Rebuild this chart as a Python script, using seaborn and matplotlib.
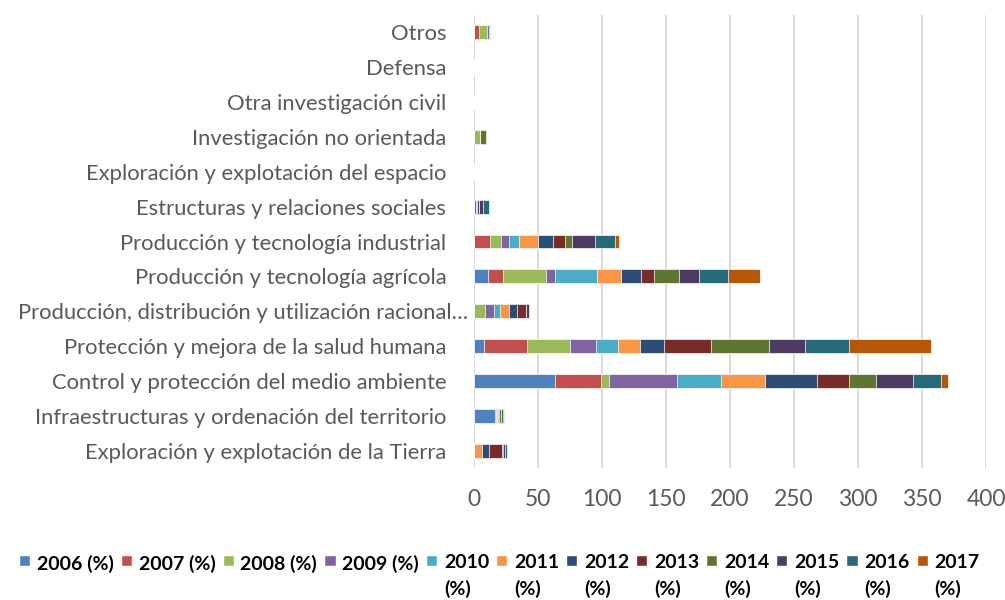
import pandas as pd
import matplotlib

matplotlib.use('Agg')
import matplotlib.pyplot as plt
import seaborn as sns
from matplotlib.patches import Rectangle
from matplotlib.legend_handler import HandlerPatch
from matplotlib.transforms import ScaledTranslation

# categories, top to bottom
categories = [
    "Otros",
    "Defensa",
    "Otra investigación civil",
    "Investigación no orientada",
    "Exploración y explotación del espacio",
    "Estructuras y relaciones sociales",
    "Producción y tecnología industrial",
    "Producción y tecnología agrícola",
    "Producción, distribución y utilización racional…",
    "Protección y mejora de la salud humana",
    "Control y protección del medio ambiente",
    "Infraestructuras y ordenación del territorio",
    "Exploración y explotación de la Tierra",
]

years = ["2006", "2007", "2008", "2009", "2010", "2011",
         "2012", "2013", "2014", "2015", "2016", "2017"]

v2006 = [0, 0, 0, 0, 0, 0, 0, 10.7, 0, 7.6, 63.6, 16.4, 0]
v2007 = [3.6, 0, 0, 0, 0, 1.2, 12.8, 12.2, 0, 33.8, 35.6, 0.8, 0]
v2008 = [6.3, 0, 0, 4.7, 0, 0, 8.0, 33.4, 8.6, 33.3, 6.3, 0, 0]
v2009 = [1.6, 0, 0, 0, 0, 0, 6.8, 7.2, 7.0, 20.9, 53.0, 0.5, 0]
v2010 = [1.2, 0, 0, 0, 0, 0, 7.8, 32.8, 4.5, 16.9, 34.4, 0, 0]
v2011 = [0, 0, 0, 0, 0, 1.3, 14.3, 18.3, 7.0, 17.2, 34.3, 1.3, 6.5]
v2012 = [0, 0, 0, 0, 0, 1.4, 12.3, 16.1, 6.2, 19.0, 41.0, 0.8, 5.4]
v2013 = [0, 0, 0, 0, 0, 0, 9.4, 9.9, 7.0, 36.8, 25.0, 0, 9.9]
v2014 = [0, 0, 0, 4.9, 0, 0, 5.2, 19.8, 0.5, 45.0, 20.8, 1.0, 1.0]
v2015 = [0, 0, 0, 0, 0, 2.9, 18.2, 15.6, 2.2, 28.3, 29.0, 0, 1.7]
v2016 = [0, 0, 0, 0, 0, 5.2, 15.4, 22.2, 0, 34.2, 22.0, 1.5, 1.5]
v2017 = [0, 0, 0, 0, 0, 0, 3.3, 25.5, 0, 64.0, 5.4, 1.5, 0]

colors = ["#4F81BD", "#C0504D", "#9BBB59", "#8064A2", "#4BACC6", "#F79646",
          "#2C4D75", "#772C2A", "#5F7530", "#4D3B62", "#276A7C", "#B65708"]

series = [v2006, v2007, v2008, v2009, v2010, v2011,
          v2012, v2013, v2014, v2015, v2016, v2017]

sns.set_theme(style='white')
plt.rcParams['font.family'] = ['Lato', 'DejaVu Sans']

df = pd.DataFrame(dict(zip(years, series)), index=categories)
cum = df.cumsum(axis=1)

fig = plt.figure(figsize=(10.05, 6), dpi=100)
ax = fig.add_axes([474 / 1005, 1 - 468 / 600, 512 / 1005, 453 / 600])

# stacked bars: draw cumulative totals from the last year back to the first
for year, color in reversed(list(zip(years, colors))):
    sns.barplot(x=cum[year].values, y=categories, orient='h', color=color,
                saturation=1, width=0.4, edgecolor='white', linewidth=0.5, ax=ax)

ax.set_xlim(0, 400)
ax.set_xticks(range(0, 401, 50))
ax.set_xlabel('')
ax.set_ylabel('')
ax.set_axisbelow(True)
ax.xaxis.grid(True, color='#d9d9d9', linewidth=1.4)
ax.yaxis.grid(False)
for s in ax.spines.values():
    s.set_visible(False)
ax.tick_params(axis='y', length=0, pad=20, labelsize=15.8, labelcolor='#595959')
ax.tick_params(axis='x', length=0, pad=15, labelsize=16.5, labelcolor='#595959')

# the truncated label sticks out further right, as in the original
for lab in ax.get_yticklabels():
    if lab.get_text().endswith("…"):
        lab.set_transform(lab.get_transform() + ScaledTranslation(0.22, 0, fig.dpi_scale_trans))


def square(legend, orig_handle, xdescent, ydescent, width, height, fontsize):
    s = 8
    return Rectangle((-xdescent + (width - s) / 2, -ydescent + (height - s) / 2 + 11), s, s)


handles = [Rectangle((0, 0), 1, 1, facecolor=c) for c in colors]
labels = [y + " (%)\n" if i < 4 else y + "\n(%)" for i, y in enumerate(years)]
leg = fig.legend(handles, labels, loc='center', bbox_to_anchor=(0.497, 0.04), ncol=12,
                 frameon=False, prop={'weight': 'bold', 'size': 14},
                 handlelength=0.55, handletextpad=0.35, columnspacing=0.38,
                 handler_map={Rectangle: HandlerPatch(patch_func=square)})
for t in leg.get_texts():
    t.set_linespacing(1.55)
    t.set_color('#000000')

plt.savefig("out.png", dpi=100)
